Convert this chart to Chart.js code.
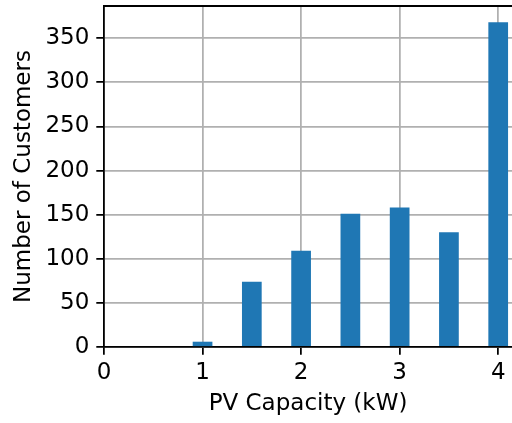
<!DOCTYPE html>
<html>
<head>
<meta charset="utf-8">
<script src="https://cdn.jsdelivr.net/npm/chart.js@4/dist/chart.umd.min.js"></script>
<style>
  html, body { margin: 0; padding: 0; background: #fff; }
  canvas { display: block; }
</style>
</head>
<body>
<canvas id="chart" width="512" height="423"></canvas>
<script>
// PV capacity bins (kW) and customer counts per bin
const capacities = [1, 1.5, 2, 2.5, 3, 3.5, 4];
const customers = [6, 74, 109, 151, 158, 130, 368];
const xTicks = [0, 1, 2, 3, 4];
const yTicks = [0, 50, 100, 150, 200, 250, 300, 350];

const FONT = { family: 'DejaVu Sans', size: 23 };
const LW = 1.76;

// Draws the upper frame line of the plot box
const topFrame = {
  id: 'topFrame',
  afterDraw(chart) {
    const { ctx, chartArea } = chart;
    ctx.save();
    ctx.strokeStyle = '#000';
    ctx.lineWidth = LW;
    ctx.beginPath();
    ctx.moveTo(chartArea.left - LW / 2, chartArea.top);
    ctx.lineTo(chartArea.right, chartArea.top);
    ctx.stroke();
    ctx.restore();
  }
};

new Chart(document.getElementById('chart'), {
  type: 'bar',
  data: {
    datasets: [{
      data: capacities.map((c, i) => ({ x: c, y: customers[i] })),
      backgroundColor: '#1f77b4',
      borderWidth: 0,
      barPercentage: 0.4,
      categoryPercentage: 1.0
    }]
  },
  options: {
    responsive: false,
    animation: false,
    devicePixelRatio: 1,
    layout: { padding: { top: 6, left: 0, right: 0, bottom: 0 } },
    plugins: { legend: { display: false }, tooltip: { enabled: false } },
    scales: {
      x: {
        type: 'linear',
        z: 1,
        offset: false,
        min: 0,
        max: 4.14,
        afterBuildTicks: (s) => { s.ticks = xTicks.map(v => ({ value: v })); },
        afterFit: (s) => { s.height = 76; s.paddingLeft = 0; s.paddingRight = 0; },
        ticks: { font: FONT, color: '#000', padding: 5, includeBounds: false },
        grid: { offset: false, color: '#b0b0b0', lineWidth: LW, tickColor: '#000', tickWidth: LW, tickLength: 7.7 },
        border: { color: '#000', width: LW },
        title: { display: true, text: 'PV Capacity (kW)', font: FONT, color: '#000', padding: { top: 0, bottom: 5 } }
      },
      y: {
        z: 1,
        min: 0,
        max: 386.5,
        afterBuildTicks: (s) => { s.ticks = yTicks.map(v => ({ value: v })); },
        afterFit: (s) => { s.width = 104; s.paddingTop = 0; s.paddingBottom = 0; },
        ticks: { font: FONT, color: '#000', padding: 7, includeBounds: false },
        grid: { color: '#b0b0b0', lineWidth: LW, tickColor: '#000', tickWidth: LW, tickLength: 7.7 },
        border: { color: '#000', width: LW },
        title: { display: true, text: 'Number of Customers', font: FONT, color: '#000', padding: { top: 10, bottom: 0 } }
      }
    }
  },
  plugins: [topFrame]
});
</script>
</body>
</html>
